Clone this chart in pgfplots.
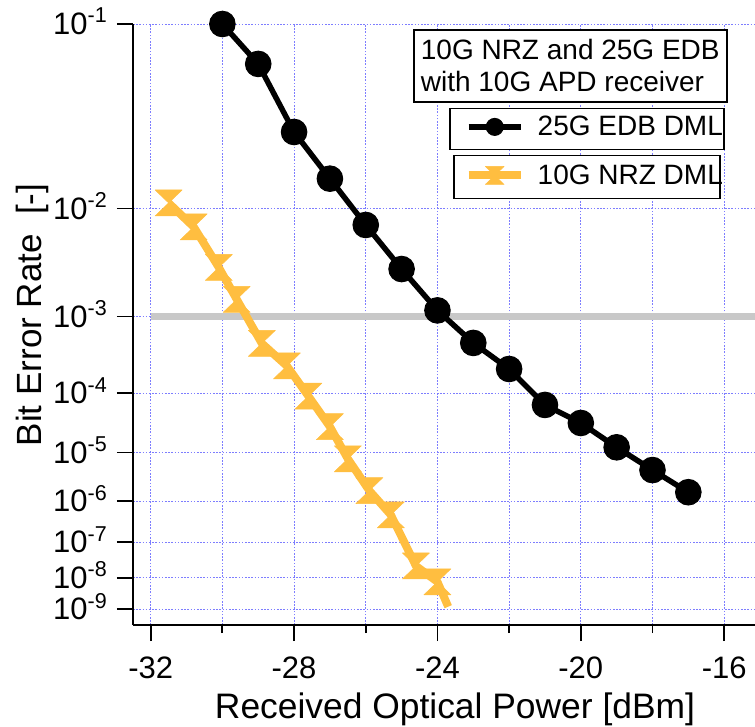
\documentclass[border=0pt]{standalone}
\usepackage{fontspec}
\setmainfont{Liberation Sans}
\usepackage{pgfplots}
\pgfplotsset{compat=1.18}

\definecolor{nrz}{RGB}{255,190,64}
\definecolor{gridblue}{RGB}{125,125,255}
\definecolor{thr}{RGB}{200,200,200}

% 10^{-n} tick label in text font
\newcommand\tp[1]{10\raisebox{11.5bp}{\fontsize{21.5bp}{21.5bp}\selectfont #1}}

% vertical hourglass marker
\pgfdeclareplotmark{hourglass}{%
  \pgfpathmoveto{\pgfqpoint{-1.04\pgfplotmarksize}{\pgfplotmarksize}}%
  \pgfpathlineto{\pgfqpoint{1.04\pgfplotmarksize}{\pgfplotmarksize}}%
  \pgfpathlineto{\pgfqpoint{-1.04\pgfplotmarksize}{-\pgfplotmarksize}}%
  \pgfpathlineto{\pgfqpoint{1.04\pgfplotmarksize}{-\pgfplotmarksize}}%
  \pgfpathclose
  \pgfusepathqfillstroke
}

\pgfplotsset{
  % BER scale: -log10(-log10(BER))
  berscale/.style={
    y coord trafo/.code={%
      \begingroup
      \pgfkeys{/pgf/fpu=true,/pgf/fpu/output format=fixed}%
      \pgfmathparse{-ln(-ln(##1)/2.302585)/2.302585}%
      \xdef\bertmp{\pgfmathresult}%
      \endgroup
      \let\pgfmathresult\bertmp
    },
  },
  legimg/.style={
    legend image code/.code={\draw[##1,mark indices={2},mark size=#1]
      plot coordinates {(0bp,0bp) (26bp,0bp) (52bp,0bp)};},
  },
}

\begin{document}
\begin{tikzpicture}
\path[use as bounding box] (-133bp,-102bp) rectangle (622bp,625bp);
\begin{axis}[
  at={(0,0)}, anchor=south west,
  scale only axis, width=622bp, height=601bp,
  clip=false,
  axis lines*=left,
  axis line style={line width=1.8bp},
  berscale,
  xmin=-32.494, xmax=-15.14,
  ymin=2.78e-10, ymax=0.1,
  xtick={-32,-28,-24,-20,-16},
  xticklabels={-32,-28,-24,-20,-16},
  minor xtick={-30,-26,-22,-18},
  ytick={1e-1,1e-2,1e-3,1e-4,1e-5,1e-6,1e-7,1e-8,1e-9},
  yticklabels={\tp{-1},\tp{-2},\tp{-3},\tp{-4},\tp{-5},\tp{-6},\tp{-7},\tp{-8},\tp{-9}},
  grid=both,
  grid style={gridblue, line width=0.8bp, dash pattern=on 1.6bp off 1.6bp},
  tick align=outside,
  major tick length=16bp, minor tick length=8bp,
  tick style={black, line width=1.8bp},
  tick label style={font=\fontsize{31bp}{37bp}\selectfont, inner sep=0pt},
  xticklabel style={yshift=-16bp},
  yticklabel style={xshift=-10bp, yshift=2.5bp},
  xlabel={Received Optical Power [dBm]},
  xlabel style={font=\fontsize{35.4bp}{41bp}\selectfont, inner sep=0pt,
    at={([yshift=-93bp]axis description cs:0.5177,0)}, anchor=base},
  ylabel={Bit Error Rate\ \ [-]},
  ylabel style={font=\fontsize{35bp}{41bp}\selectfont, inner sep=0pt,
    at={([xshift=-91bp]axis description cs:0,0.516)}, anchor=base},
  legend style={draw=none, fill=none, at={(0.533,0.8466)}, anchor=north west,
    inner sep=0pt, row sep=27.5bp, column sep=13bp,
    font=\fontsize{28bp}{34bp}\selectfont, nodes={inner sep=0pt}},
  legend cell align=left,
]
% legend frames and title
\draw[line width=1.5bp, fill=white] (rel axis cs:0.4518,0.8702) rectangle (rel axis cs:0.955,0.990);
\draw[line width=1.5bp, fill=white] (rel axis cs:0.5096,0.7915) rectangle (rel axis cs:0.9502,0.8597);
\draw[line width=1.5bp, fill=white] (rel axis cs:0.5161,0.7100) rectangle (rel axis cs:0.9437,0.7809);
\node[anchor=base west, inner sep=0pt, font=\fontsize{28bp}{34bp}\selectfont]
  at (rel axis cs:0.4625,0.9412) {10G NRZ and 25G EDB};
\node[anchor=base west, inner sep=0pt, font=\fontsize{28bp}{34bp}\selectfont]
  at (rel axis cs:0.4625,0.8874) {with 10G APD receiver};

% 1e-3 threshold
\addplot[thr, line width=7.5bp, forget plot] coordinates {(-32,1e-3) (-15.14,1e-3)};

% 25G EDB DML
\addplot[black, line width=5.5bp, line join=round, mark=*, mark size=12.8bp,
  mark options={line width=1bp}, legimg=8.5bp]
coordinates {
(-30,1.0e-1) (-29,6.89e-2) (-28,3.16e-2) (-27,1.63e-2) (-26,7.46e-3)
(-25,3.09e-3) (-24,1.17e-3) (-23,4.86e-4) (-22,2.22e-4) (-21,6.58e-5)
(-20,3.35e-5) (-19,1.25e-5) (-18,4.57e-6) (-17,1.57e-6)
};
\addlegendentry{25G EDB DML}

% 10G NRZ DML
\addplot[nrz, line width=8bp, line join=round, mark=hourglass, mark size=13bp,
  mark options={line width=0.5bp},
  mark indices={1,2,3,4,5,6,7,8,9,10,11,12,13}, legimg=9bp]
coordinates {
(-31.5,1.1e-2) (-30.8,7.2e-3) (-30.1,3.2e-3) (-29.6,1.54e-3) (-28.9,4.8e-4)
(-28.2,2.44e-4) (-27.6,9.0e-5) (-27.0,2.9e-5) (-26.5,7.6e-6) (-25.9,1.7e-6)
(-25.3,4.8e-7) (-24.6,2.2e-8) (-24.0,7.5e-9) (-23.7,1.2e-9)
};
\addlegendentry{10G NRZ DML}
\end{axis}
\end{tikzpicture}
\end{document}
